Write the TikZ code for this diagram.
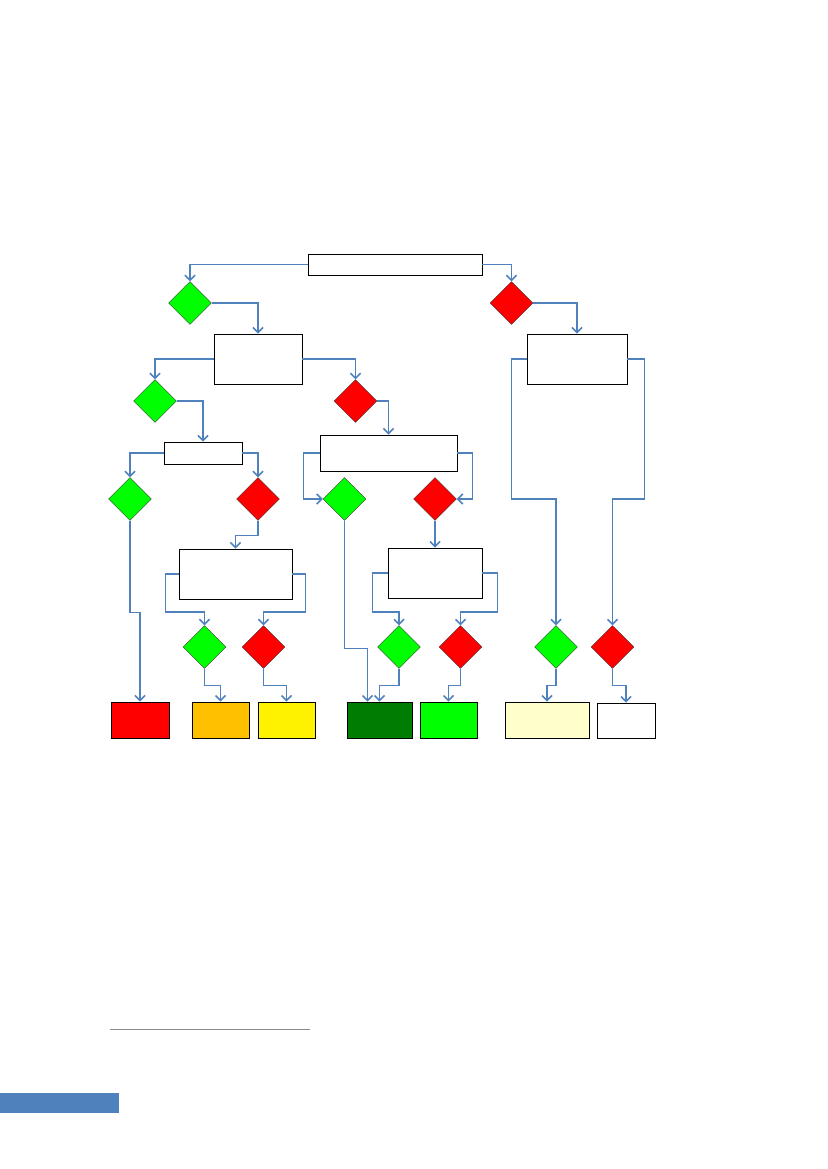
\documentclass[tikz,border=0pt]{standalone}
\usepackage{tikz}
\usetikzlibrary{arrows.meta,shapes.geometric}
\definecolor{linkblue}{RGB}{79,129,189}
\definecolor{okgreen}{RGB}{0,255,0}
\definecolor{nogred}{RGB}{255,0,0}
\definecolor{darkok}{RGB}{0,124,0}
\definecolor{amber}{RGB}{255,192,0}
\definecolor{paleyellow}{RGB}{255,255,204}

\begin{document}
\begin{tikzpicture}[x=1pt,y=-1pt,
test box/.style={draw,line width=0.9pt,inner sep=0pt,minimum width=#1},
yes/.style={diamond,draw=black!80,line width=0.4pt,fill=okgreen,inner sep=0pt,minimum size=43pt},
no/.style={diamond,draw=black!80,line width=0.4pt,fill=nogred,inner sep=0pt,minimum size=43pt},
result/.style={draw,line width=0.9pt,inner sep=0pt,minimum height=36pt,minimum width=#1},
flow/.style={-{Straight Barb[length=5pt,width=10pt]},line width=1.5pt,draw=linkblue}]
\useasboundingbox (0,0) rectangle (827,1169);
% question boxes
\node[test box=174pt,minimum height=21pt] (top) at (395,264.5) {};
\node[test box=88pt,minimum height=50pt] (b2) at (258,359) {};
\node[test box=100pt,minimum height=50pt] (b3) at (577,359) {};
\node[test box=78pt,minimum height=22pt] (b4) at (203,453) {};
\node[test box=137pt,minimum height=36pt] (b5) at (388.5,453) {};
\node[test box=113pt,minimum height=50pt] (b6) at (235.5,574) {};
\node[test box=94pt,minimum height=50pt] (b7) at (435,573) {};
% answers
\node[yes] (g1) at (190,303) {};
\node[no] (r1) at (511.5,303) {};
\node[yes] (g2) at (155,401) {};
\node[no] (r2) at (355.5,401) {};
\node[yes] (g3) at (130,499) {};
\node[no] (r3) at (258,499) {};
\node[yes] (g4) at (344.5,499) {};
\node[no] (r4) at (435,499) {};
\node[yes] (g5) at (204.5,647) {};
\node[no] (r5) at (263.5,647) {};
\node[yes] (g6) at (399,647) {};
\node[no] (r6) at (460.5,647) {};
\node[yes] (g7) at (556,647) {};
\node[no] (r7) at (612.5,647) {};
% outcomes
\node[result=58pt,fill=nogred] (o1) at (140,720) {};
\node[result=57pt,fill=amber] (o2) at (220.5,720) {};
\node[result=57pt,fill=yellow] (o3) at (286.5,720) {};
\node[result=65pt,fill=darkok] (o4) at (379.5,720) {};
\node[result=57pt,fill=okgreen] (o5) at (448.5,720) {};
\node[result=84pt,fill=paleyellow] (o6) at (547,720) {};
\node[result=58pt,minimum height=35pt,fill=white] (o7) at (626,720.5) {};
\draw[flow] (top.west) -| (g1.north);
\draw[flow] (top.east) -| (r1.north);
\draw[flow] (g1.east) -| (b2.north);
\draw[flow] (r1.east) -| (b3.north);
\draw[flow] (b2.west) -| (g2.north);
\draw[flow] (b2.east) -| (r2.north);
\draw[flow] (g2.east) -| (b4.north);
\draw[flow] (r2.east) -| (b5.north);
\draw[flow] (b4.west) -| (g3.north);
\draw[flow] (b4.east) -| (r3.north);
\draw[flow] (b5.west) -- ++(-16,0) |- (g4.west);
\draw[flow] (b5.east) -- ++(15,0) |- (r4.east);
\draw[flow] (r3.south) -- ++(0,15) -| (b6.north);
\draw[flow] (r4.south) -- (b7.north);
\draw[flow] (b6.west) -| ++(-13,38) -| (g5.north);
\draw[flow] (b6.east) -| ++(13,38) -| (r5.north);
\draw[flow] (b7.west) -| ++(-15,39) -| (g6.north);
\draw[flow] (b7.east) -| ++(15,39) -| (r6.north);
\draw[flow] (b3.west) -| ++(-15,140) -| (g7.north);
\draw[flow] (b3.east) -| ++(17,140) -| (r7.north);
\draw[flow] (g3.south) -- ++(0,92) -| (o1.north);
\draw[flow] (g5.south) -- ++(0,17) -| (o2.north);
\draw[flow] (r5.south) -- ++(0,17) -| (o3.north);
\draw[flow] (g4.south) -- ++(0,128) -| ([xshift=-12pt]o4.north);
\draw[flow] (g6.south) -- ++(0,17) -| (o4.north);
\draw[flow] (r6.south) -- ++(0,17) -| (o5.north);
\draw[flow] (g7.south) -- ++(0,17) -| (o6.north);
\draw[flow] (r7.south) -- ++(0,17) -| (o7.north);
% page furniture
\draw[black!45,line width=1pt] (110,1029) -- (310,1029);
\fill[linkblue] (0,1093) rectangle (119,1113);
\end{tikzpicture}
\end{document}
